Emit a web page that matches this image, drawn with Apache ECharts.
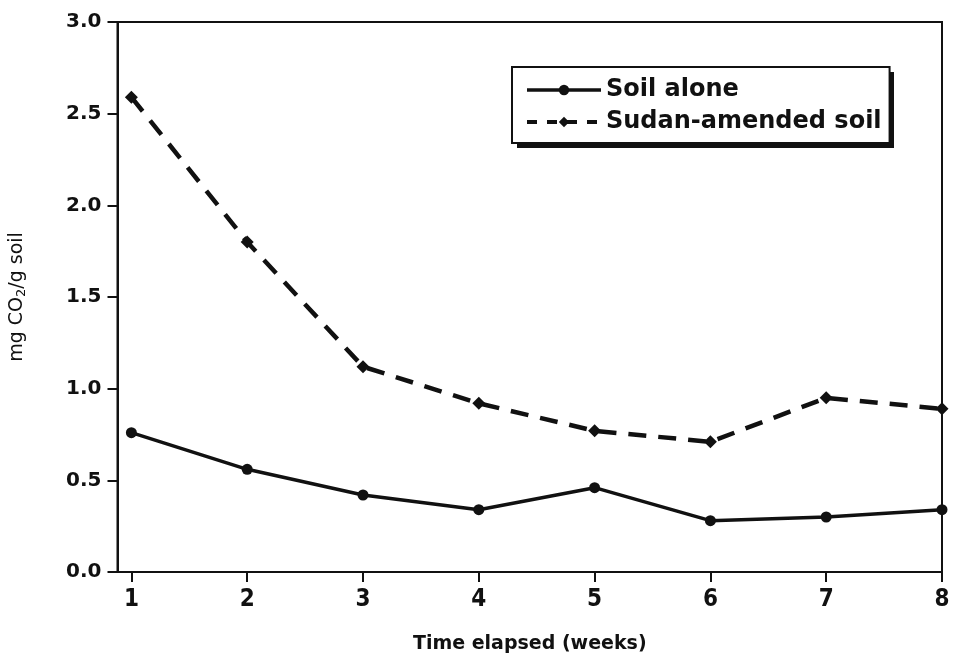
<!DOCTYPE html>
<html>
<head>
<meta charset="utf-8">
<script src="https://cdn.jsdelivr.net/npm/echarts@6/dist/echarts.min.js"></script>
<style>html,body{margin:0;padding:0;background:#fff}#c{width:953px;height:659px}</style>
</head>
<body>
<div id="c"></div>
<script>
var weeks = [1, 2, 3, 4, 5, 6, 7, 8];
var soilAlone = [0.76, 0.56, 0.42, 0.34, 0.46, 0.28, 0.30, 0.34];
var sudanAmended = [2.59, 1.80, 1.12, 0.92, 0.77, 0.71, 0.95, 0.89];
var yTicks = [0, 0.5, 1.0, 1.5, 2.0, 2.5, 3.0];
var seriesNames = ['Soil alone', 'Sudan-amended soil'];

function pairs(xs, ys) { return xs.map(function (x, i) { return [x, ys[i]]; }); }

var ink = '#111';
var chart = echarts.init(document.getElementById('c'), null, {renderer: 'canvas'});
chart.setOption({
  backgroundColor: '#fff',
  animation: false,
  grid: {left: 116, right: 11, top: 22, bottom: 85, show: true, borderColor: ink, borderWidth: 2, backgroundColor: 'transparent'},
  graphic: [{
    type: 'rect', left: 517, top: 72, z: 3, silent: true,
    shape: {width: 377, height: 76}, style: {fill: ink}
  }],
  legend: {
    left: 512, top: 67, orient: 'vertical', z: 5,
    padding: [11, 8, 9, 13],
    itemGap: 8, itemWidth: 74, itemHeight: 13,
    backgroundColor: '#fff', borderColor: ink, borderWidth: 2,
    textStyle: {fontFamily: 'DejaVu Sans', fontWeight: 'bold', fontSize: 24, color: ink},
    data: [
      {name: seriesNames[0], lineStyle: {width: 3.5}},
      {name: seriesNames[1], lineStyle: {width: 4, type: [10, 10]}}
    ]
  },
  xAxis: {
    type: 'value', min: 0.88, max: 8,
    name: 'Time elapsed (weeks)', nameLocation: 'middle', nameGap: 63,
    nameTextStyle: {fontFamily: 'DejaVu Sans', fontWeight: 'bold', fontSize: 19, color: ink},
    axisLine: {show: true, lineStyle: {color: ink, width: 2}},
    axisTick: {show: true, length: 10, lineStyle: {color: ink, width: 2}, customValues: weeks},
    axisLabel: {customValues: weeks, margin: 16, fontFamily: "'Liberation Sans Narrow', 'DejaVu Sans Condensed', 'Liberation Sans', sans-serif", fontWeight: 'bold', fontSize: 24, color: ink},
    splitLine: {show: false}
  },
  yAxis: {
    type: 'value', min: 0, max: 3, interval: 0.5,
    name: 'mg CO{sub|2}/g soil', nameLocation: 'middle', nameGap: 89, nameRotate: 90,
    nameTextStyle: {fontFamily: 'DejaVu Sans', fontSize: 19, color: ink,
      rich: {sub: {fontFamily: 'DejaVu Sans', fontSize: 13, verticalAlign: 'bottom', padding: [9, 0, 0, 0], color: ink}}},
    axisLine: {show: true, lineStyle: {color: ink, width: 2}},
    axisTick: {show: true, length: 10, lineStyle: {color: ink, width: 2}},
    axisLabel: {margin: 16, fontFamily: 'DejaVu Sans', fontWeight: 'bold', fontSize: 20, color: ink,
      formatter: function (v) { return v.toFixed(1); }},
    splitLine: {show: false}
  },
  series: [
    {
      name: seriesNames[0], type: 'line', data: pairs(weeks, soilAlone),
      symbol: 'circle', symbolSize: 11,
      lineStyle: {color: ink, width: 3.5, type: 'solid'},
      itemStyle: {color: ink}
    },
    {
      name: seriesNames[1], type: 'line', data: pairs(weeks, sudanAmended),
      symbol: 'diamond', symbolSize: 13,
      lineStyle: {color: ink, width: 4.5, type: [18, 12]},
      itemStyle: {color: ink}
    }
  ]
});
</script>
</body>
</html>
